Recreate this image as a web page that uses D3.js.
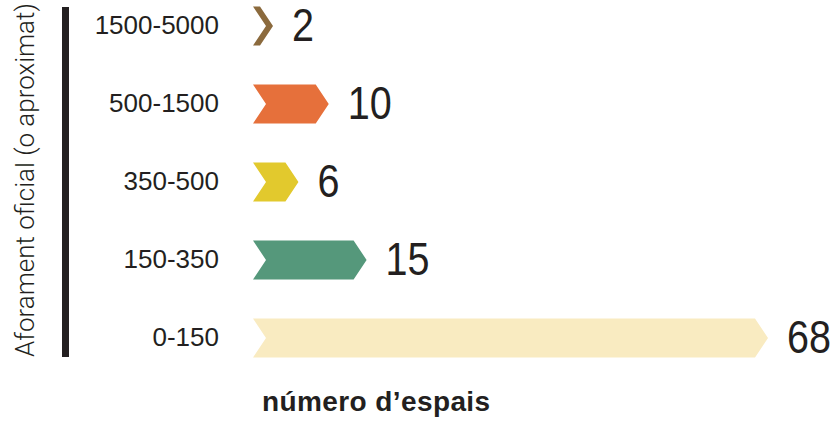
<!DOCTYPE html>
<html>
<head>
<meta charset="utf-8">
<script src="https://cdn.jsdelivr.net/npm/d3@7"></script>
<style>
  body { margin: 0; background: #fff; }
  text { font-family: "Liberation Sans", Arial, sans-serif; fill: #231f20; }
</style>
</head>
<body>
<div id="chart"></div>
<script>
// data
var categories = ["1500-5000", "500-1500", "350-500", "150-350", "0-150"];
var values = [2, 10, 6, 15, 68];
var colors = ["#8b6a3d", "#e6703b", "#e2c92d", "#55987b", "#f9ebc1"];

var svgWidth = 835, svgHeight = 423;

var svg = d3.select("#chart")
  .append("svg")
  .attr("width", svgWidth)
  .attr("height", svgHeight);

var x0 = 253;
var xScale = d3.scaleLinear()
  .domain([0, 68])
  .range([x0, 768]);

var yScale = d3.scaleBand()
  .domain(categories)
  .range([-13, 377])
  .paddingInner(0.5)
  .paddingOuter(0.25);

var notch = 13;

// bar length, with a minimum so the smallest chevron stays visible
function barLen(d) {
  return Math.max(xScale(d) - x0, notch + 7);
}

// chevron shaped bars
function chevron(d, i) {
  var L = barLen(d);
  var t = yScale(categories[i]);
  var h = yScale.bandwidth();
  var pts = [
    [x0, t], [x0 + L - notch, t], [x0 + L, t + h / 2],
    [x0 + L - notch, t + h], [x0, t + h], [x0 + notch, t + h / 2]
  ];
  return "M" + pts.map(p => p.join(",")).join("L") + "Z";
}

svg.selectAll(".bar")
  .data(values)
  .enter()
  .append("path")
  .attr("class", "bar")
  .attr("d", chevron)
  .attr("fill", (d, i) => colors[i]);

// value labels
svg.selectAll(".val")
  .data(values)
  .enter()
  .append("text")
  .attr("class", "val")
  .attr("transform", (d, i) => "translate(" + (x0 + barLen(d) + 19) + "," +
    (yScale(categories[i]) + yScale.bandwidth() / 2 + 15) + ") scale(0.86,1)")
  .style("font-size", "46px")
  .text(d => d);

// category labels
var leftAxis = d3.axisLeft(yScale).tickSize(0).tickPadding(0);
var axisG = svg.append("g")
  .attr("transform", "translate(219,0)")
  .call(leftAxis);
axisG.select(".domain").remove();
axisG.selectAll("text")
  .style("font-size", "26px")
  .style("font-family", "Liberation Sans, Arial, sans-serif")
  .attr("fill", "#231f20");

// vertical black bar
svg.append("rect")
  .attr("x", 62)
  .attr("y", 7)
  .attr("width", 7)
  .attr("height", 350)
  .attr("fill", "#231f20");

// axis titles
svg.append("text")
  .attr("transform", "translate(34,180) rotate(-90)")
  .attr("text-anchor", "middle")
  .style("font-family", "Roboto, Liberation Sans, sans-serif")
  .style("font-size", "26px")
  .style("font-weight", "300")
  .text("Aforament oficial (o aproximat)");

svg.append("text")
  .attr("x", 262)
  .attr("y", 411)
  .style("font-size", "28px")
  .style("font-weight", "bold")
  .style("letter-spacing", "0.4px")
  .text("número d’espais");
</script>
</body>
</html>
